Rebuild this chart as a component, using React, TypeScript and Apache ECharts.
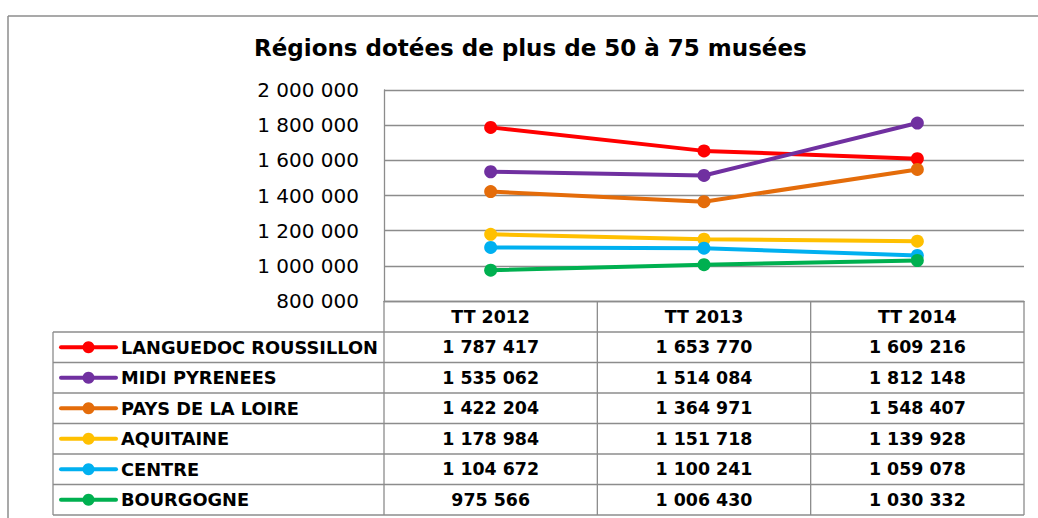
import React, { useEffect, useRef } from "react";
import * as echarts from "echarts";

const categories = ["TT 2012", "TT 2013", "TT 2014"];
const seriesNames = [
  "LANGUEDOC ROUSSILLON",
  "MIDI PYRENEES",
  "PAYS DE LA LOIRE",
  "AQUITAINE",
  "CENTRE",
  "BOURGOGNE",
];
const languedocRoussillon = [1787417, 1653770, 1609216];
const midiPyrenees = [1535062, 1514084, 1812148];
const paysDeLaLoire = [1422204, 1364971, 1548407];
const aquitaine = [1178984, 1151718, 1139928];
const centre = [1104672, 1100241, 1059078];
const bourgogne = [975566, 1006430, 1030332];
const seriesValues = [languedocRoussillon, midiPyrenees, paysDeLaLoire, aquitaine, centre, bourgogne];
const colors = ["#FF0000", "#7030A0", "#E46C0A", "#FFC000", "#00B0F0", "#00B050"];
const yMin = 800000;
const yMax = 2000000;
const yInterval = 200000;

const FONT = "DejaVu Sans";
const GRID_LEFT = 384;
const GRID_RIGHT_X = 1024;
const GRID_TOP = 90;
const AXIS_Y = 301;
const TABLE_LEFT = 53;
const HEADER_BOTTOM = 332;
const ROW_H = 30.5;
const BORDER = "#8c8c8c";

const fmt = (n: number) => String(n).replace(/\B(?=(\d{3})+(?!\d))/g, " ");

export default function App() {
  const ref = useRef<HTMLDivElement>(null);
  useEffect(() => {
    if (!ref.current) return;
    const chart = echarts.init(ref.current, null, { renderer: "svg" });
    const W = 1038;
    const H = 518;
    chart.setOption({
      animation: false,
      title: {
        text: "Régions dotées de plus de 50 à 75 musées",
        left: 254,
        top: 36,
        padding: 0,
        textStyle: { fontFamily: FONT, fontWeight: "bold", fontSize: 23, color: "#000" },
      },
      grid: {
        left: GRID_LEFT,
        right: W - GRID_RIGHT_X,
        top: GRID_TOP,
        bottom: H - AXIS_Y,
        containLabel: false,
      },
      legend: {
        orient: "vertical",
        left: 59,
        top: HEADER_BOTTOM,
        padding: 0,
        itemGap: 0,
        itemWidth: 55,
        itemHeight: 15,
        selectedMode: false,
        data: seriesNames,
        lineStyle: { width: 4, cap: "round" },
        textStyle: {
          fontFamily: FONT,
          fontWeight: "bold",
          fontSize: 17.8,
          color: "#000",
          lineHeight: ROW_H,
        },
      },
      xAxis: {
        type: "category",
        data: categories,
        boundaryGap: true,
        axisLine: { show: true, lineStyle: { color: BORDER, width: 1.3 } },
        axisTick: { show: false },
        axisLabel: { show: false },
      },
      yAxis: {
        type: "value",
        min: yMin,
        max: yMax,
        interval: yInterval,
        axisLine: { show: true, lineStyle: { color: BORDER, width: 1.3 } },
        axisTick: { show: false },
        splitLine: { show: true, lineStyle: { color: BORDER, width: 1.3 } },
        axisLabel: {
          margin: 25,
          fontFamily: FONT,
          fontSize: 20,
          color: "#000",
          formatter: (v: number) => fmt(v),
        },
      },
      series: seriesNames.map((name, i) => ({
        name,
        type: "line",
        data: seriesValues[i],
        symbol: "circle",
        symbolSize: 13,
        lineStyle: { width: 4, color: colors[i] },
        itemStyle: { color: colors[i], borderWidth: 0 },
        z: 2 + i,
      })),
    });

    const colW = (GRID_RIGHT_X - GRID_LEFT) / categories.length;
    const tableBottom = HEADER_BOTTOM + ROW_H * seriesNames.length;
    const els: any[] = [];
    // outer frame
    els.push({ type: "line", shape: { x1: 8, y1: 16, x2: W, y2: 16 }, style: { stroke: BORDER, lineWidth: 1.5 } });
    els.push({ type: "line", shape: { x1: 8, y1: 16, x2: 8, y2: H }, style: { stroke: BORDER, lineWidth: 1.5 } });
    // table horizontal lines
    for (let k = 0; k <= seriesNames.length; k++) {
      const y = HEADER_BOTTOM + k * ROW_H;
      els.push({ type: "line", shape: { x1: TABLE_LEFT, y1: y, x2: GRID_RIGHT_X, y2: y }, style: { stroke: BORDER, lineWidth: 1.3 } });
    }
    // table vertical lines
    els.push({ type: "line", shape: { x1: TABLE_LEFT, y1: HEADER_BOTTOM, x2: TABLE_LEFT, y2: tableBottom }, style: { stroke: BORDER, lineWidth: 1.3 } });
    for (let c = 0; c <= categories.length; c++) {
      const x = GRID_LEFT + c * colW;
      els.push({ type: "line", shape: { x1: x, y1: AXIS_Y, x2: x, y2: tableBottom }, style: { stroke: BORDER, lineWidth: 1.3 } });
    }
    // header texts and values
    categories.forEach((cat, c) => {
      const cx = chart.convertToPixel({ xAxisIndex: 0 }, cat) as number;
      els.push({
        type: "text",
        x: cx,
        y: (AXIS_Y + HEADER_BOTTOM) / 2,
        style: { text: cat, fill: "#000", font: `bold 17.4px "${FONT}"`, align: "center", verticalAlign: "middle" },
      });
      seriesValues.forEach((vals, r) => {
        els.push({
          type: "text",
          x: cx,
          y: HEADER_BOTTOM + (r + 0.5) * ROW_H,
          style: { text: fmt(vals[c]), fill: "#000", font: `bold 17.4px "${FONT}"`, align: "center", verticalAlign: "middle" },
        });
      });
    });
    chart.setOption({ graphic: { elements: els } });
    return () => chart.dispose();
  }, []);
  return (
    <div
      ref={ref}
      style={{ position: "fixed", left: 0, top: 0, width: 1038, height: 518, background: "#fff" }}
    />
  );
}
